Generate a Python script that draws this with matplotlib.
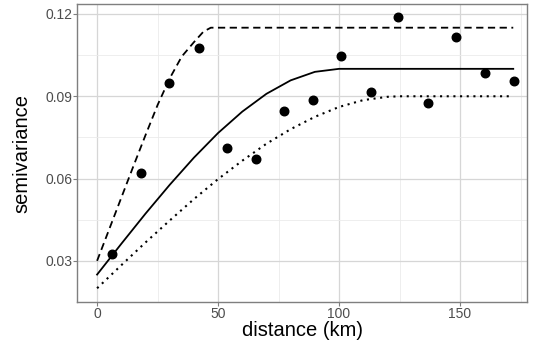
import matplotlib.pyplot as plt
from matplotlib.ticker import MultipleLocator

# empirical semivariogram (lag distance in km, semivariance)
lag_km = [6.2, 18.2, 29.8, 42.1, 53.7, 65.7, 77.3, 89.3, 100.8, 113.2, 124.4, 136.8, 148.3, 160.3, 172.3]
gamma = [0.0325, 0.0620, 0.0948, 0.1076, 0.0711, 0.0671, 0.0846, 0.0886, 0.1047,
         0.0916, 0.1189, 0.0876, 0.1116, 0.0985, 0.0956]

# fitted model curves
dash_h = [0, 5, 10, 15, 20, 25, 30, 35, 40, 44, 47, 172]
dash_g = [0.030, 0.0415, 0.0530, 0.0645, 0.0758, 0.0868, 0.0965, 0.1045, 0.1097, 0.1136, 0.115, 0.115]

solid_h = [0, 10, 20, 30, 40, 50, 60, 70, 80, 90, 100, 172]
solid_g = [0.025, 0.0362, 0.0472, 0.0577, 0.0676, 0.0766, 0.0844, 0.0909, 0.0958, 0.0989, 0.100, 0.100]

dot_h = [0, 10, 20, 30, 40, 50, 60, 70, 80, 90, 100, 110, 120, 125, 172]
dot_g = [0.020, 0.0284, 0.0367, 0.0447, 0.0525, 0.0598, 0.0665, 0.0727, 0.0780, 0.0825,
         0.0861, 0.0886, 0.0898, 0.090, 0.090]

plt.rcParams['font.family'] = ['Liberation Sans', 'DejaVu Sans']

fig = plt.figure(figsize=(5.4, 3.42), dpi=100)
ax = fig.add_axes([0.1426, 0.117, 0.8334, 0.871])

ax.plot(dash_h, dash_g, color='black', linestyle=(0, (4, 2.5)), linewidth=1.3)
ax.plot(solid_h, solid_g, color='black', linestyle='-', linewidth=1.3)
ax.plot(dot_h, dot_g, color='black', linestyle=(0, (1, 2.2)), linewidth=1.5)
ax.scatter(lag_km, gamma, s=38, color='black', zorder=3)

ax.set_xlim(-8.3, 177.7)
ax.set_ylim(0.015, 0.1236)
ax.xaxis.set_minor_locator(MultipleLocator(25))
ax.yaxis.set_minor_locator(MultipleLocator(0.015))
ax.set_xticks([0, 50, 100, 150])
ax.set_xticklabels(['0', '50', '100', '150'])
ax.set_yticks([0.03, 0.06, 0.09, 0.12])
ax.set_yticklabels(['0.03', '0.06', '0.09', '0.12'])

ax.grid(True, which='major', color='#d6d6d6', linewidth=0.9)
ax.grid(True, which='minor', color='#ebebeb', linewidth=0.6)
ax.set_axisbelow(True)
for s in ax.spines.values():
    s.set_color('#7f7f7f')
    s.set_linewidth(1.0)
ax.tick_params(which='major', length=2.8, width=0.8, color='#7f7f7f', labelcolor='#4d4d4d',
               labelsize=10, pad=0.8)
ax.tick_params(which='minor', length=0)

ax.set_xlabel('distance (km)', fontsize=14.5, labelpad=0)
ax.set_ylabel('semivariance', fontsize=14.5, labelpad=10)

fig.savefig('out.png', dpi=100)
